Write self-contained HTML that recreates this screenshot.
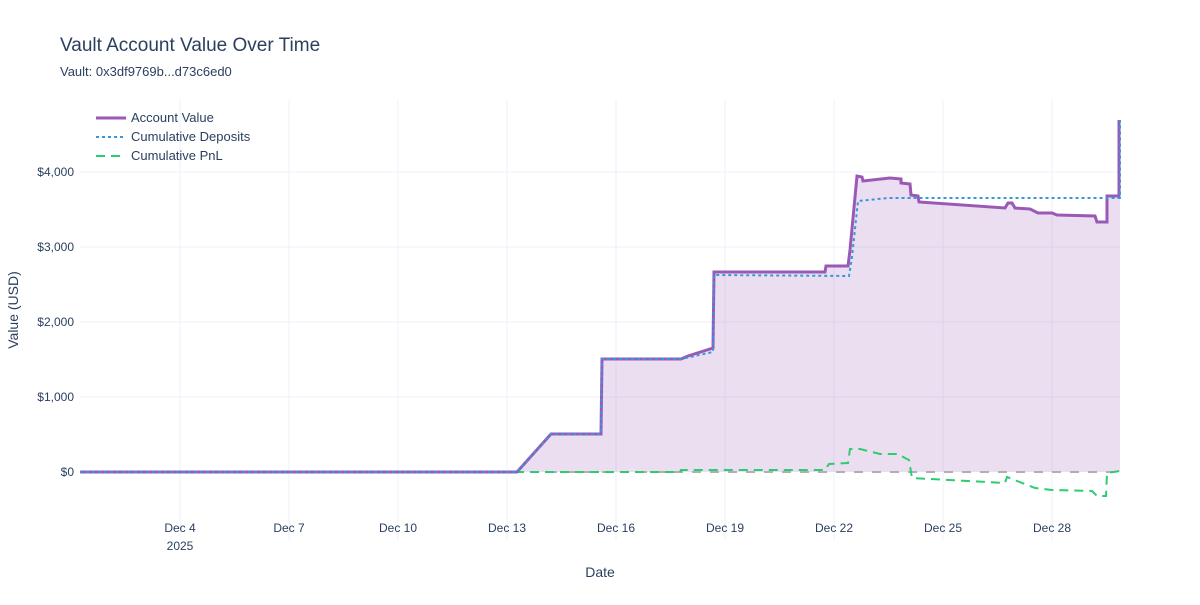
<!DOCTYPE html>
<html><head><meta charset="utf-8"><style>
body{margin:0;background:#fff;font-family:"Liberation Sans",Arial,sans-serif;}
</style></head><body>
<svg width="1200" height="600" xmlns="http://www.w3.org/2000/svg" font-family="Liberation Sans, Arial, sans-serif">
<rect width="1200" height="600" fill="#fff"/>
<g stroke="#ebf0f8" stroke-width="1">
<line x1="180" y1="100" x2="180" y2="540"/><line x1="289" y1="100" x2="289" y2="540"/>
<line x1="398" y1="100" x2="398" y2="540"/><line x1="507" y1="100" x2="507" y2="540"/>
<line x1="616" y1="100" x2="616" y2="540"/><line x1="725" y1="100" x2="725" y2="540"/>
<line x1="834" y1="100" x2="834" y2="540"/><line x1="943" y1="100" x2="943" y2="540"/>
<line x1="1052" y1="100" x2="1052" y2="540"/>
<line x1="80" y1="172" x2="1120" y2="172"/><line x1="80" y1="247" x2="1120" y2="247"/>
<line x1="80" y1="322" x2="1120" y2="322"/><line x1="80" y1="397" x2="1120" y2="397"/>
</g>
<polygon fill="rgba(155,89,182,0.2)" points="80,472 517,472 551,434 601,434 602,359 681,359 688,356 713,348 714,272 825,272 826,266 848,266 850,250 857,176 862,177 863,181 890,178 901,179 901,183 910,184 911,195 918,196 919,202 1005,208 1008,203 1012,203 1015,208 1030,209 1038,213 1052,213 1057,215 1095,216 1097,222 1107,222 1107,196 1119,196 1119,120 1120,120 1120,472"/>
<line x1="80" y1="472" x2="1120" y2="472" stroke="#b0b0b0" stroke-width="2" stroke-dasharray="9,9"/>
<polyline fill="none" stroke="#2ecc71" stroke-width="2" stroke-dasharray="9,6" points="80,472 680,472 681,470 825,470 829,464 848,463 850,449 860,449 880,454 898,454 905,458 909,460 912,478 1005,483 1007,477 1017,481 1035,488 1052,490 1092,491 1097,496 1106,496 1107,473 1120,471"/>
<polyline fill="none" stroke="#9b59b6" stroke-width="3" points="80,472 517,472 551,434 601,434 602,359 681,359 688,356 713,348 714,272 825,272 826,266 848,266 850,250 857,176 862,177 863,181 890,178 901,179 901,183 910,184 911,195 918,196 919,202 1005,208 1008,203 1012,203 1015,208 1030,209 1038,213 1052,213 1057,215 1095,216 1097,222 1107,222 1107,196 1119,196 1119,120"/>
<polyline fill="none" stroke="#3498db" stroke-width="2" stroke-dasharray="3,3" points="80,472 517,472 551,434 601,434 602,359 681,359 713,352 714,275 849,276 852,257 858,201 888,198 1120,198 1120,120"/>
<g font-size="12" fill="#2a3f5f" text-anchor="end">
<text x="74" y="176">$4,000</text><text x="74" y="251">$3,000</text>
<text x="74" y="326">$2,000</text><text x="74" y="401">$1,000</text><text x="74" y="476">$0</text>
</g>
<g font-size="12" fill="#2a3f5f" text-anchor="middle">
<text x="180" y="532">Dec 4</text><text x="180" y="550">2025</text>
<text x="289" y="532">Dec 7</text><text x="398" y="532">Dec 10</text>
<text x="507" y="532">Dec 13</text><text x="616" y="532">Dec 16</text>
<text x="725" y="532">Dec 19</text><text x="834" y="532">Dec 22</text>
<text x="943" y="532">Dec 25</text><text x="1052" y="532">Dec 28</text>
</g>
<text x="600" y="577" font-size="14" fill="#2a3f5f" text-anchor="middle">Date</text>
<text x="18" y="310" font-size="14" fill="#2a3f5f" text-anchor="middle" transform="rotate(-90 18 310)">Value (USD)</text>
<text x="60" y="51" font-size="19" fill="#2a3f5f">Vault Account Value Over Time</text>
<text x="60" y="76" font-size="13" fill="#2a3f5f">Vault: 0x3df9769b...d73c6ed0</text>
<g font-size="13" fill="#2a3f5f">
<line x1="96" y1="118" x2="126" y2="118" stroke="#9b59b6" stroke-width="3"/>
<text x="131" y="122">Account Value</text>
<line x1="96" y1="137" x2="126" y2="137" stroke="#3498db" stroke-width="2" stroke-dasharray="3,3"/>
<text x="131" y="141">Cumulative Deposits</text>
<line x1="96" y1="156" x2="126" y2="156" stroke="#2ecc71" stroke-width="2" stroke-dasharray="9,6"/>
<text x="131" y="160">Cumulative PnL</text>
</g>
</svg>
</body></html>
